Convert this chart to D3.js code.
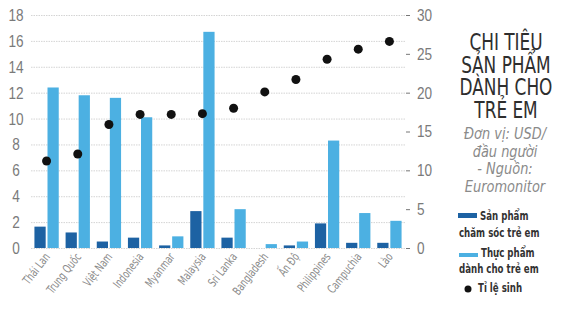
<!DOCTYPE html>
<html>
<head>
<meta charset="utf-8">
<script src="https://cdn.jsdelivr.net/npm/d3@7"></script>
<style>
  body { margin: 0; background: #fff; }
  svg { font-family: "DejaVu Sans Condensed", "Liberation Sans Narrow", "Open Sans", sans-serif; }
</style>
</head>
<body>
<div id="chart"></div>
<script>
// data
const countries = ['Thái Lan', 'Trung Quốc', 'Việt Nam', 'Indonesia', 'Myanmar', 'Malaysia',
  'Sri Lanka', 'Bangladesh', 'Ấn Độ', 'Philippines', 'Campuchia', 'Lào'];
const careValues = [1.65, 1.2, 0.5, 0.8, 0.2, 2.85, 0.8, 0, 0.2, 1.9, 0.4, 0.4];
const foodValues = [12.4, 11.8, 11.6, 10.1, 0.9, 16.7, 3.0, 0.3, 0.5, 8.3, 2.7, 2.1];
const birthRates = [11.2, 12.1, 15.9, 17.2, 17.2, 17.3, 18.0, 20.1, 21.7, 24.3, 25.6, 26.6];
const leftTicks = [0, 2, 4, 6, 8, 10, 12, 14, 16, 18];
const rightTicks = [0, 5, 10, 15, 20, 25, 30];
const titleLines = ['CHI TIÊU', 'SẢN PHẨM', 'DÀNH CHO', 'TRẺ EM'];
const noteLines = ['Đơn vị: USD/', 'đầu người', '- Nguồn:', 'Euromonitor'];

const width = 572, height = 335;
const plot = { left: 31, right: 405, top: 15, bottom: 248 };
const darkBlue = '#1d62a3', lightBlue = '#4cb0e2';
const squeeze = 0.8; // no narrow font installed, so squeeze text horizontally

const svg = d3.select('#chart').append('svg')
  .attr('width', width)
  .attr('height', height);

const x = d3.scaleBand().domain(countries).range([plot.left, plot.right]).paddingInner(0.22).paddingOuter(0.11);
const xSub = d3.scaleBand().domain(['care', 'food']).range([0, x.bandwidth()]).paddingInner(0.14);
const yLeft = d3.scaleLinear().domain([0, 18]).range([plot.bottom, plot.top]);
const yRight = d3.scaleLinear().domain([0, 30]).range([plot.bottom, plot.top]);

// grid
svg.append('g')
  .selectAll('line')
  .data(leftTicks)
  .enter()
  .append('line')
  .attr('x1', plot.left)
  .attr('x2', plot.right)
  .attr('y1', d => yLeft(d) + 0.5)
  .attr('y2', d => yLeft(d) + 0.5)
  .attr('stroke', '#d4d4d4')
  .attr('stroke-dasharray', '1.5,1');

// left axis
const leftAxis = svg.append('g')
  .attr('transform', `translate(${plot.left},0)`)
  .call(d3.axisLeft(yLeft).tickValues(leftTicks).tickSize(0));
leftAxis.select('.domain').remove();
leftAxis.selectAll('text')
  .attr('fill', '#7a7a7a')
  .attr('font-size', 17)
  .attr('text-anchor', 'middle')
  .attr('x', 0)
  .attr('transform', `translate(-15,0) scale(${squeeze},1)`);

// right axis
const rightAxis = svg.append('g')
  .attr('transform', `translate(${plot.right},0)`)
  .call(d3.axisRight(yRight).tickValues(rightTicks).tickSize(4));
rightAxis.select('.domain').remove();
rightAxis.selectAll('line').attr('stroke', '#777').attr('transform', 'translate(1,0)');
rightAxis.selectAll('text')
  .attr('fill', '#7a7a7a')
  .attr('font-size', 17)
  .attr('x', 0)
  .attr('transform', `translate(12,0) scale(${squeeze},1)`);

// bars
const groups = svg.append('g')
  .selectAll('g')
  .data(countries)
  .enter()
  .append('g')
  .attr('transform', d => `translate(${x(d)},0)`);

groups.append('rect')
  .attr('x', xSub('care'))
  .attr('width', xSub.bandwidth())
  .attr('y', (d, i) => yLeft(careValues[i]))
  .attr('height', (d, i) => yLeft(0) - yLeft(careValues[i]))
  .attr('fill', darkBlue);

groups.append('rect')
  .attr('x', xSub('food'))
  .attr('width', xSub.bandwidth())
  .attr('y', (d, i) => yLeft(foodValues[i]))
  .attr('height', (d, i) => yLeft(0) - yLeft(foodValues[i]))
  .attr('fill', lightBlue);

// birth rate dots
svg.append('g')
  .selectAll('circle')
  .data(birthRates)
  .enter()
  .append('circle')
  .attr('cx', (d, i) => x(countries[i]) + x.bandwidth() / 2)
  .attr('cy', d => yRight(d))
  .attr('r', 4.5)
  .attr('fill', '#111');

// x labels
svg.append('g')
  .selectAll('text')
  .data(countries)
  .enter()
  .append('text')
  .attr('transform', d => `translate(${x(d) + x.bandwidth() / 2 + 4},${plot.bottom + 9}) rotate(-52) scale(0.78,1)`)
  .attr('text-anchor', 'end')
  .attr('font-size', 12)
  .attr('fill', '#8a8a8a')
  .text(d => d);

// title
svg.append('g')
  .selectAll('text')
  .data(titleLines)
  .enter()
  .append('text')
  .attr('transform', (d, i) => `translate(506,${50 + i * 22.7}) scale(0.8,1)`)
  .attr('text-anchor', 'middle')
  .attr('font-size', 23.5)
  .attr('fill', '#2e2e2e')
  .text(d => d);

svg.append('g')
  .selectAll('text')
  .data(noteLines)
  .enter()
  .append('text')
  .attr('transform', (d, i) => `translate(505,${139 + i * 17.6}) scale(0.9,1)`)
  .attr('text-anchor', 'middle')
  .attr('font-size', 16)
  .attr('font-style', 'italic')
  .attr('fill', '#8a8a8a')
  .text(d => d);

// legend
const legend = svg.append('g').attr('fill', '#333').attr('font-size', 13).attr('font-weight', 'bold');
const legendText = (tx, ty, label) => legend.append('text')
  .attr('transform', `translate(${tx},${ty}) scale(0.74,1)`)
  .text(label);
legend.append('rect').attr('x', 458).attr('y', 213).attr('width', 19).attr('height', 5).attr('fill', darkBlue);
legendText(480, 220, 'Sản phẩm');
legendText(459, 237, 'chăm sóc trẻ em');
legend.append('rect').attr('x', 459).attr('y', 253).attr('width', 19).attr('height', 4).attr('fill', lightBlue);
legendText(481, 257, 'Thực phẩm');
legendText(459, 273, 'dành cho trẻ em');
legend.append('circle').attr('cx', 468).attr('cy', 289).attr('r', 3.5).attr('fill', '#111');
legendText(478, 292, 'Tỉ lệ sinh');
</script>
</body>
</html>
